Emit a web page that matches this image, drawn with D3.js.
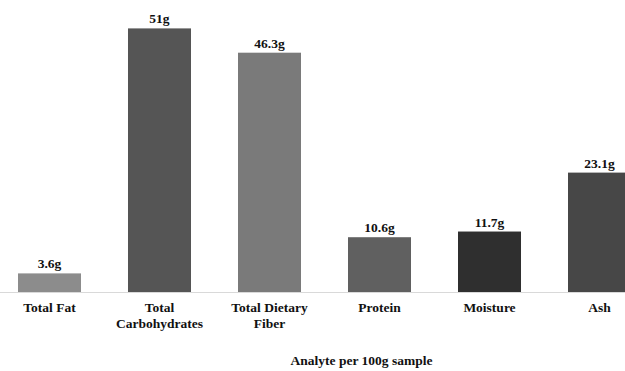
<!DOCTYPE html>
<html>
<head>
<meta charset="utf-8">
<script src="https://cdn.jsdelivr.net/npm/d3@7/dist/d3.min.js"></script>
<style>
  html, body { margin: 0; padding: 0; background: #fff; }
  svg { display: block; }
  text { font-family: "Liberation Serif", "Times New Roman", serif; font-weight: bold; fill: #111; }
</style>
</head>
<body>
<svg id="chart" width="625" height="371"></svg>
<script>
// Composition per 100 g sample
const categories = ["Total Fat", "Total Carbohydrates", "Total Dietary Fiber", "Protein", "Moisture", "Ash"];
const categoryLines = [["Total Fat"], ["Total", "Carbohydrates"], ["Total Dietary", "Fiber"], ["Protein"], ["Moisture"], ["Ash"]];
const values = [3.6, 51, 46.3, 10.6, 11.7, 23.1];
const valueLabels = ["3.6g", "51g", "46.3g", "10.6g", "11.7g", "23.1g"];
const barColors = ["#8c8c8c", "#555555", "#7a7a7a", "#606060", "#2f2f2f", "#474747"];
const axisTitle = "Analyte per 100g sample";

const svg = d3.select("#chart");
const W = 625;
const baseY = 292;

const x = d3.scaleBand()
  .domain(categories)
  .range([-5.5, 654.5])
  .paddingInner(47 / 110)
  .paddingOuter(0.2136);

const y = d3.scaleLinear()
  .domain([0, 51])
  .range([baseY, 28.4]);

// baseline
svg.append("line")
  .attr("x1", 0).attr("x2", W)
  .attr("y1", baseY + 0.5).attr("y2", baseY + 0.5)
  .attr("stroke", "#d9d9d9")
  .attr("stroke-width", 1);

// bars
svg.selectAll("rect.bar")
  .data(values)
  .join("rect")
  .attr("class", "bar")
  .attr("x", (d, i) => x(categories[i]))
  .attr("y", d => y(d))
  .attr("width", x.bandwidth())
  .attr("height", d => y(0) - y(d))
  .attr("fill", (d, i) => barColors[i]);

// value labels
svg.selectAll("text.val")
  .data(values)
  .join("text")
  .attr("class", "val")
  .attr("x", (d, i) => x(categories[i]) + x.bandwidth() / 2)
  .attr("y", d => y(d) - 5)
  .attr("text-anchor", "middle")
  .attr("font-size", 13.5)
  .text((d, i) => valueLabels[i]);

// category labels
const cat = svg.selectAll("text.cat")
  .data(categoryLines)
  .join("text")
  .attr("class", "cat")
  .attr("text-anchor", "middle")
  .attr("font-size", 13.5)
  .attr("fill", "#222");
cat.each(function (lines, i) {
  const cx = x(categories[i]) + x.bandwidth() / 2;
  d3.select(this).selectAll("tspan")
    .data(lines)
    .join("tspan")
    .attr("x", cx)
    .attr("y", (l, j) => 312 + j * 16)
    .text(l => l);
});

// axis title
svg.append("text")
  .attr("x", 361.5)
  .attr("y", 365)
  .attr("text-anchor", "middle")
  .attr("font-size", 13.5)
  .text(axisTitle);
</script>
</body>
</html>
